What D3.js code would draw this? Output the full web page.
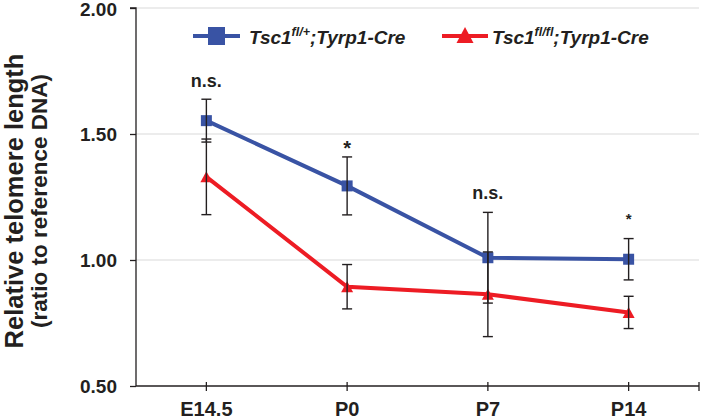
<!DOCTYPE html>
<html><head><meta charset="utf-8">
<script src="https://cdn.jsdelivr.net/npm/d3@7"></script>
<style>body{margin:0;background:#fff}text{font-family:"Liberation Sans",Arial,sans-serif}</style>
</head><body><svg id="c" width="701" height="419"></svg>
<script>
const categories = ["E14.5","P0","P7","P14"];
const hetValues = [1.553, 1.294, 1.009, 1.003];
const hetErrors = [0.085, 0.115, 0.18, 0.082];
const koValues = [1.33, 0.894, 0.864, 0.792];
const koErrors = [0.15, 0.088, 0.168, 0.064];
const annotations = ["n.s.","*","n.s.","*"];
const annotationY = [1.687, 1.418, 1.242, 1.143];
const yTicks = [0.5, 1.0, 1.5, 2.0];

(function () {
const svg = d3.select("#c");
const pL = 136, pR = 699, pT = 8, pB = 386;
const ink = "#231f20";
const x = d3.scaleBand().domain(categories).range([pL, pR]);
const cx = d => x(d) + x.bandwidth()/2;
const y = d3.scaleLinear().domain([0.5, 2.0]).range([pB, pT]);
const blue = "#3953a4", red = "#ed1c24";

// gridlines
svg.append("g").selectAll("line").data(yTicks.filter(t => t > 0.5)).join("line")
  .attr("x1", pL).attr("x2", pR).attr("y1", d => y(d)).attr("y2", d => y(d))
  .attr("stroke", "#d9d9d9").attr("stroke-width", 1);

// y axis
const ya = svg.append("g").attr("transform", `translate(${pL},0)`)
  .call(d3.axisLeft(y).tickValues(yTicks).tickFormat(d3.format(".2f")).tickSize(6).tickPadding(13));
ya.select(".domain").attr("stroke", ink).attr("stroke-width", 1.3).attr("d", `M-6,${pT}H0V${pB}`);
ya.selectAll(".tick line").attr("stroke", ink).attr("stroke-width", 1.3);
ya.selectAll(".tick text").attr("font-size", 19).attr("font-weight", "bold").attr("fill", ink)
  .attr("font-family", "Liberation Sans, Arial, sans-serif").attr("dy", (d) => d === 2.0 ? "0.42em" : "0.36em");

// x axis
const xa = svg.append("g").attr("transform", `translate(0,${pB})`)
  .call(d3.axisBottom(x).tickSize(0).tickPadding(15.5));
xa.select(".domain").attr("stroke", ink).attr("stroke-width", 1.3).attr("d", `M${pL},0H${pR}`);
xa.selectAll(".tick text").attr("font-size", 20).attr("font-weight", "bold").attr("fill", ink)
  .attr("font-family", "Liberation Sans, Arial, sans-serif");
const tickXs = categories.map(cx).concat([pR]);
svg.append("g").selectAll("line").data(tickXs).join("line")
  .attr("x1", d => d).attr("x2", d => d).attr("y1", pB - 4).attr("y2", pB + 5)
  .attr("stroke", ink).attr("stroke-width", 1.3);

// y title
svg.append("text").attr("transform", "translate(23,201) rotate(-90)").attr("text-anchor", "middle")
  .attr("font-size", 25.5).attr("font-weight", "bold").attr("fill", ink).text("Relative telomere length");
svg.append("text").attr("transform", "translate(46.5,201) rotate(-90)").attr("text-anchor", "middle")
  .attr("font-size", 22.5).attr("font-weight", "bold").attr("fill", ink).text("(ratio to reference DNA)");

// lines
const line = d3.line().x((d, i) => cx(categories[i])).y(d => y(d));
svg.append("path").datum(hetValues).attr("d", line).attr("fill", "none").attr("stroke", blue).attr("stroke-width", 4);
svg.append("path").datum(koValues).attr("d", line).attr("fill", "none").attr("stroke", red).attr("stroke-width", 4);

// markers
const triPath = (w, h) => `M0,${-h/2}L${w/2},${h/2}L${-w/2},${h/2}Z`;
svg.append("g").selectAll("rect").data(hetValues).join("rect")
  .attr("x", (d, i) => cx(categories[i]) - 5.5).attr("y", d => y(d) - 5.5)
  .attr("width", 11).attr("height", 11).attr("fill", blue);
svg.append("g").selectAll("path").data(koValues).join("path")
  .attr("transform", (d, i) => `translate(${cx(categories[i])},${y(d)})`)
  .attr("d", triPath(12, 11)).attr("fill", red);

// error bars
function errBars(vals, errs) {
  const g = svg.append("g").attr("stroke", ink).attr("stroke-width", 1.4);
  vals.forEach((v, i) => {
    const px = cx(categories[i]);
    g.append("line").attr("x1", px).attr("x2", px).attr("y1", y(v + errs[i])).attr("y2", y(v - errs[i]));
    [v + errs[i], v - errs[i]].forEach(e => g.append("line")
      .attr("x1", px - 5).attr("x2", px + 5).attr("y1", y(e)).attr("y2", y(e)));
  });
}
errBars(hetValues, hetErrors);
errBars(koValues, koErrors);

// annotations
const annSize = [18, 20, 18, 15];
svg.append("g").selectAll("text").data(annotations).join("text")
  .attr("x", (d, i) => cx(categories[i])).attr("y", (d, i) => y(annotationY[i]))
  .attr("text-anchor", "middle").attr("font-size", (d, i) => annSize[i]).attr("font-weight", "bold")
  .attr("fill", ink).text(d => d);

// legend
const legend = [
  {label: "Tsc1", sup: "fl/+", rest: ";Tyrp1-Cre", color: blue, shape: "sq", x1: 193, x2: 240, tx: 249},
  {label: "Tsc1", sup: "fl/fl", rest: ";Tyrp1-Cre", color: red, shape: "tri", x1: 442, x2: 488, tx: 492}
];
const ly = 36;
legend.forEach(l => {
  svg.append("line").attr("x1", l.x1).attr("x2", l.x2).attr("y1", ly).attr("y2", ly).attr("stroke", l.color).attr("stroke-width", 4);
  const mx = (l.x1 + l.x2) / 2;
  if (l.shape === "sq") svg.append("rect").attr("x", mx - 8.5).attr("y", ly - 9).attr("width", 17).attr("height", 18).attr("fill", l.color);
  else svg.append("path").attr("transform", `translate(${mx},${ly - 1})`).attr("d", triPath(17, 16)).attr("fill", l.color);
  const t = svg.append("text").attr("x", l.tx).attr("y", ly + 8).attr("font-size", 19).attr("font-weight", "bold")
    .attr("font-style", "italic").attr("fill", ink);
  t.append("tspan").text(l.label);
  t.append("tspan").attr("font-size", 12.5).attr("dy", -8).text(l.sup);
  t.append("tspan").attr("dy", 8).text(l.rest);
});
})();
</script></body></html>
